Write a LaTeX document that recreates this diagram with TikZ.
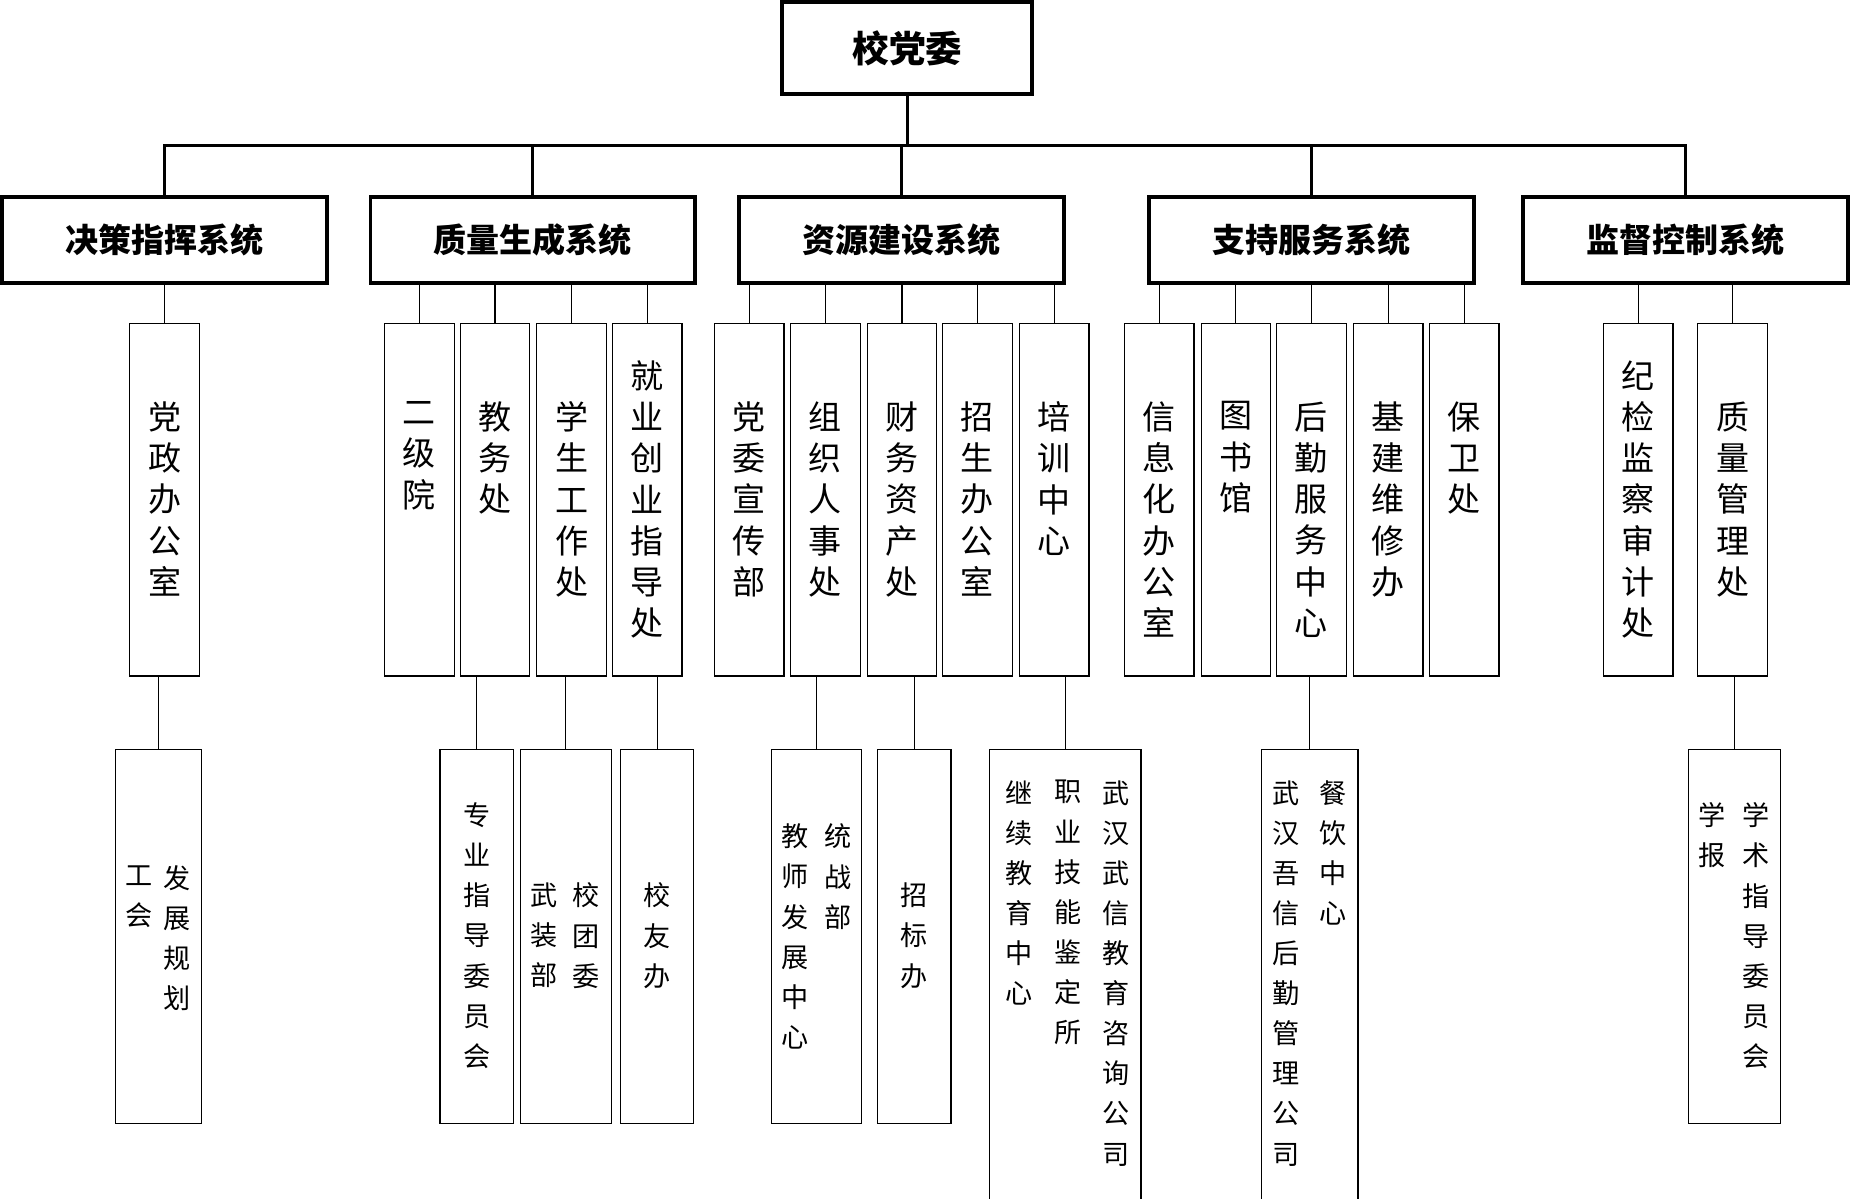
\documentclass[tikz,border=0pt]{standalone}
\usepackage{fontspec}
\setmainfont{Noto Sans CJK SC}
\begin{document}
\begin{tikzpicture}[x=0.5pt,y=-0.5pt,
 bbox/.style={draw,line width=1.6pt,minimum height=36.5pt,inner sep=0},
 sbox/.style={draw,line width=0.5pt,inner sep=0},
 ttl/.style={font=\bfseries\fontsize{14}{16}\selectfont},
 vA/.style={align=center,anchor=north,inner sep=0,font=\fontsize{14}{17.5}\selectfont},
 vB/.style={align=center,anchor=north,inner sep=0,font=\fontsize{11.5}{17}\selectfont},
 thk/.style={line width=1.2pt},
 thn/.style={line width=0.5pt}]
\useasboundingbox (0,0) rectangle (1568,1016);
\newcommand\lbox[5]{\node[#1,minimum width=#4*0.5pt,minimum height=#5*0.5pt] (#2) at (#3) {};}
% level 0
\node[bbox,minimum width=106pt,minimum height=39pt] (top) at (769,41) {};
\node[font=\bfseries\fontsize{15.5}{17}\selectfont] at (top) {校党委};
% level 1
\foreach \n/\x/\t in {A/139.5/决策指挥系统,B/451.5/质量生成系统,C/764/资源建设系统,D/1111.5/支持服务系统,E/1428.5/监督控制系统}{
 \node[bbox,minimum width=137.5pt] (\n) at (\x,203.5) {};
 \node[ttl] at (\n) {\t};
}
\coordinate (bus) at (769,123);
\draw[thk] (top.south) -- (bus);
\draw[thk] (A.north) -- (A.north|-bus) -- (E.north|-bus) -- (E.north);
\foreach \n in {B,C,D}{\draw[thk] (\n.north) -- (\n.north|-bus);}
% level 2
\foreach \n/\x/\p/\t in {
 a1/139.5/A/{党\\政\\办\\公\\室},
 b1/355.5/B/{二\\级\\院}, b2/419.5/B/{教\\务\\处}, b3/484.5/B/{学\\生\\工\\作\\处},
 c1/635/C/{党\\委\\宣\\传\\部}, c2/699.5/C/{组\\织\\人\\事\\处}, c3/764.5/C/{财\\务\\资\\产\\处}, c4/828.5/C/{招\\生\\办\\公\\室}, c5/893.5/C/{培\\训\\中\\心},
 d1/982.5/D/{信\\息\\化\\办\\公\\室}, d2/1047.5/D/{图\\书\\馆}, d3/1111.5/D/{后\\勤\\服\\务\\中\\心}, d4/1176.5/D/{基\\建\\维\\修\\办}, d5/1241/D/{保\\卫\\处},
 e2/1468.5/E/{质\\量\\管\\理\\处}}{
 \lbox{sbox}{\n}{\x,423.5}{59}{299}
 \node[vA] at (\x,340) {\t};
 \draw[thn] (\n.north) -- (\n.north|-\p.south);
}
\foreach \n/\x/\p/\t in {b4/548.5/B/{就\\业\\创\\业\\指\\导\\处}, e1/1388.5/E/{纪\\检\\监\\察\\审\\计\\处}}{
 \lbox{sbox}{\n}{\x,423.5}{59}{299}
 \node[vA] at (\x,305) {\t};
 \draw[thn] (\n.north) -- (\n.north|-\p.south);
}
% level 3
\newcommand\tbox[6]{% name, x, w, bottom, parent
 \node[sbox,minimum width=#3*0.5pt,minimum height=(#4-635)*0.5pt,anchor=north] (#1) at (#2,635) {};
 \draw[thn] (#1.north) -- (#1.north|-#5.south);}
\tbox{f1}{134.5}{73}{952}{a1}{}
\node[vB] at (150,733) {发\\展\\规\\划}; \node[vB] at (118,733) {工\\会};
\tbox{f2}{404}{62}{952}{b2}{}
\node[vB] at (404,680) {专\\业\\指\\导\\委\\员\\会};
\tbox{f3}{479.5}{77}{952}{b3}{}
\node[vB] at (497,748) {校\\团\\委}; \node[vB] at (461,748) {武\\装\\部};
\tbox{f4}{557}{62}{952}{b4}{}
\node[vB] at (557,748) {校\\友\\办};
\tbox{f5}{692}{76}{952}{c2}{}
\node[vB] at (710,698) {统\\战\\部}; \node[vB] at (674,698) {教\\师\\发\\展\\中\\心};
\tbox{f6}{775}{62}{952}{c3}{}
\node[vB] at (775,748) {招\\标\\办};
\tbox{f7}{903}{128}{1016}{c5}{}
\node[vB] at (946,661) {武\\汉\\武\\信\\教\\育\\咨\\询\\公\\司}; \node[vB] at (905,661) {职\\业\\技\\能\\鉴\\定\\所}; \node[vB] at (864,661) {继\\续\\教\\育\\中\\心};
\tbox{f8}{1110}{82}{1016}{d3}{}
\node[vB] at (1130,661) {餐\\饮\\中\\心}; \node[vB] at (1090,661) {武\\汉\\吾\\信\\后\\勤\\管\\理\\公\\司};
\tbox{f9}{1470}{78}{952}{e2}{}
\node[vB] at (1488,680) {学\\术\\指\\导\\委\\员\\会}; \node[vB] at (1451,680) {学\\报};
\end{tikzpicture}
\end{document}
